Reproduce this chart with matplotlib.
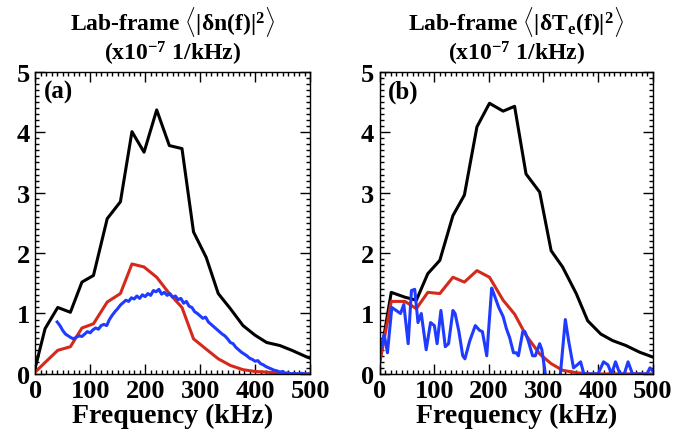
import matplotlib.pyplot as plt
from matplotlib.ticker import MultipleLocator

plt.rcParams['font.family'] = ['Liberation Serif', 'DejaVu Serif']
plt.rcParams['font.weight'] = 'bold'
plt.rcParams['mathtext.fontset'] = 'custom'
plt.rcParams['mathtext.rm'] = 'Liberation Serif:bold'
plt.rcParams['mathtext.it'] = 'Liberation Serif:bold'
plt.rcParams['mathtext.bf'] = 'Liberation Serif:bold'

# %% Data.
freq_black_a = [0, 18, 41, 64, 85, 106, 131, 155, 176, 198, 221, 244, 267, 288,
                311, 333, 355, 378, 400, 421, 445, 467, 494, 500]
black_a = [0.10, 0.75, 1.10, 1.02, 1.52, 1.63, 2.57, 2.85, 4.01, 3.67, 4.37, 3.78,
           3.73, 2.35, 1.93, 1.33, 1.08, 0.80, 0.64, 0.52, 0.47, 0.39, 0.28, 0.26]
red_a = [0.03, 0.19, 0.39, 0.45, 0.76, 0.83, 1.19, 1.33, 1.82, 1.77, 1.60, 1.33,
         1.10, 0.58, 0.41, 0.25, 0.14, 0.07, 0.04, 0.03, 0.01, 0.0, 0.0, 0.0]

freq_blue_a = list(range(40, 505, 5))
blue_a = [0.86, 0.80, 0.72, 0.66, 0.63, 0.60, 0.58, 0.61, 0.63, 0.62, 0.66,
          0.70, 0.68, 0.73, 0.76, 0.74, 0.80, 0.82, 0.80, 0.90, 0.97, 1.03,
          1.08, 1.14, 1.18, 1.22, 1.20, 1.26, 1.24, 1.29, 1.25, 1.31, 1.28,
          1.33, 1.30, 1.38, 1.36, 1.40, 1.32, 1.35, 1.30, 1.33, 1.27, 1.29,
          1.23, 1.25, 1.17, 1.20, 1.12, 1.10, 1.03, 1.00, 0.96, 0.92, 0.94,
          0.86, 0.82, 0.78, 0.74, 0.70, 0.66, 0.63, 0.58, 0.52, 0.50, 0.44,
          0.40, 0.36, 0.33, 0.30, 0.26, 0.24, 0.21, 0.22, 0.17, 0.15, 0.12,
          0.10, 0.08, 0.06, 0.05, 0.03, 0.04, 0.01, 0.02, 0.0, 0.01, 0.0,
          0.0, 0.01, 0.0, 0.0, 0.0]

freq_black_b = [0, 21, 46, 67, 88, 110, 134, 155, 178, 201, 226, 247, 268, 293,
                314, 335, 360, 381, 405, 427, 451, 476, 500]
black_b = [0.22, 1.35, 1.27, 1.22, 1.66, 1.88, 2.62, 2.96, 4.09, 4.48, 4.35, 4.43,
           3.31, 3.01, 2.04, 1.77, 1.33, 0.88, 0.66, 0.55, 0.47, 0.36, 0.28]
red_b = [0.19, 1.20, 1.20, 1.08, 1.35, 1.33, 1.60, 1.52, 1.71, 1.60, 1.22, 0.99,
         0.64, 0.33, 0.17, 0.06, 0.02, 0.0, 0.0, 0.0, 0.0, 0.0, 0.0]

freq_blue_b = [0, 8, 14, 22, 30, 38, 44, 52, 58, 64, 70, 76, 85, 93, 100, 105,
               112, 120, 126, 134, 138, 145, 152, 156, 165, 175, 183, 188, 196,
               205, 208, 218, 226, 232, 238, 245, 250, 254, 262, 266, 272, 280,
               285, 293, 297, 305, 315, 330, 340, 346, 355, 362, 368, 374, 390,
               400, 410, 418, 425, 432, 440, 448, 455, 463, 480, 490, 495, 500]
blue_b = [0.35, 0.65, 0.35, 1.10, 1.05, 1.00, 1.15, 0.50, 1.38, 1.40, 0.85, 1.00,
          0.40, 0.85, 0.80, 0.50, 1.05, 0.45, 0.50, 1.05, 1.00, 0.70, 0.30, 0.25,
          0.55, 0.80, 0.72, 0.70, 0.30, 1.42, 1.35, 1.10, 0.95, 0.75, 0.60, 0.35,
          0.35, 0.30, 0.70, 0.70, 0.55, 0.30, 0.30, 0.50, 0.40, -0.10, -0.10,
          -0.10, 0.90, 0.55, 0.10, 0.15, 0.20, 0.00, 0.00, 0.00, 0.20, 0.15,
          0.00, 0.20, 0.00, 0.00, 0.20, 0.00, 0.00, 0.00, 0.10, 0.05]

titles = [r'Lab-frame $\langle|\delta$n(f)$|^2\rangle$' + '\n' + r'(x10$^{-7}$ 1/kHz)',
          r'Lab-frame $\langle|\delta$T$_{\rm e}$(f)$|^2\rangle$' + '\n' + r'(x10$^{-7}$ 1/kHz)']
panel_labels = ['(a)', '(b)']

# %% Plot.
fig = plt.figure(figsize=(6.77, 4.39), dpi=100)
ax_a = fig.add_axes([0.052, 0.146, 0.406, 0.688])
ax_b = fig.add_axes([0.561, 0.146, 0.403, 0.688])

ax_a.plot(freq_black_a, black_a, color='black', lw=2.2)
ax_a.plot(freq_black_a, red_a, color='#d42a1c', lw=2.2)
ax_a.plot(freq_blue_a, blue_a, color='#1f3bff', lw=2.2)

ax_b.plot(freq_black_b, black_b, color='black', lw=2.2)
ax_b.plot(freq_black_b, red_b, color='#d42a1c', lw=2.2)
ax_b.plot(freq_blue_b, blue_b, color='#1f3bff', lw=2.2)

for ax, title, lab in zip([ax_a, ax_b], titles, panel_labels):
    ax.set_xlim(0, 500)
    ax.set_ylim(0, 5)
    ax.xaxis.set_major_locator(MultipleLocator(100))
    ax.xaxis.set_minor_locator(MultipleLocator(10))
    ax.yaxis.set_major_locator(MultipleLocator(1))
    ax.yaxis.set_minor_locator(MultipleLocator(0.1))
    ax.tick_params(which='both', direction='in', top=True, right=True, width=1)
    ax.tick_params(which='major', length=7, labelsize=19, pad=4)
    ax.tick_params(which='minor', length=3)
    for lbl in ax.get_xticklabels() + ax.get_yticklabels():
        lbl.set_fontweight('bold')
    for s in ax.spines.values():
        s.set_linewidth(1)
    ax.set_xlabel('Frequency (kHz)', fontsize=20, fontweight='bold', labelpad=0)
    ax.set_title(title, fontsize=17, fontweight='bold', linespacing=1.05, pad=9)
    ax.text(0.03, 0.975, lab, transform=ax.transAxes, ha='left', va='top',
            fontsize=18, fontweight='bold')

plt.savefig('out.png', dpi=100)
